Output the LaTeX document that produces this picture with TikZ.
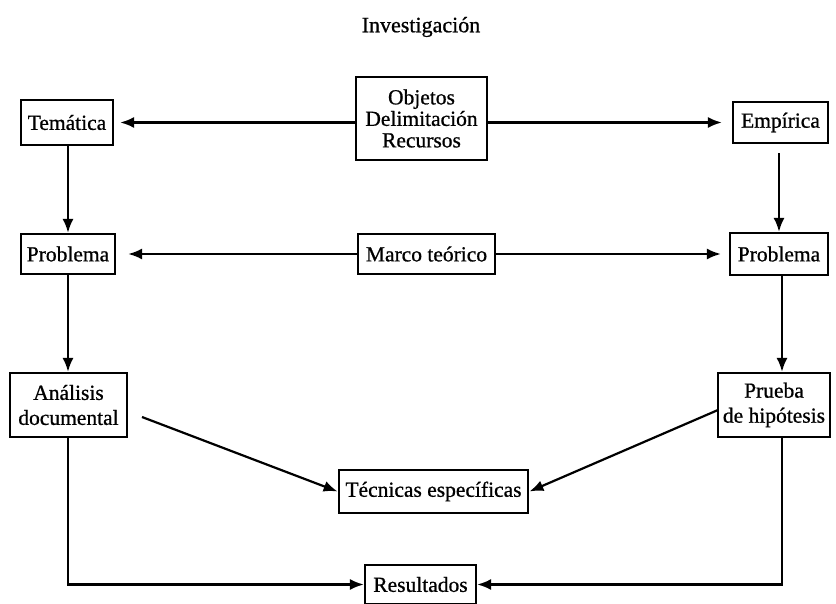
\documentclass[tikz,border=0pt]{standalone}
\usepackage{fontspec}
\setmainfont{Liberation Serif}
\newfontfamily\scanfont{Liberation Serif}[FakeBold=0.8]
\usetikzlibrary{arrows.meta}
\begin{document}
\begin{tikzpicture}[x=1pt,y=-1pt,
  box/.style={draw, line width=2.2pt, inner sep=0pt, align=center,
    font=\scanfont\fontsize{21.5}{25}\selectfont},
  heavy/.style={box, line width=2.8pt},
  conn/.style={line width=2.2pt, -{Latex[length=14pt,width=11pt]}}]
\useasboundingbox (0,0) rectangle (836,604);
\node[font=\scanfont\fontsize{22}{24}\selectfont] (title) at (421,27) {Investigación};
\node[heavy, minimum width=131pt, minimum height=83pt,
  font=\scanfont\fontsize{21.5}{21.5}\selectfont] (obj) at (421.5,118.5)
  {Objetos\\Delimitación\\Recursos};
\node[box, minimum width=92pt, minimum height=45pt] (tem) at (67,122.5) {Temática};
\node[box, minimum width=95pt, minimum height=41pt] (emp) at (780.5,122.5) {Empírica};
\node[box, minimum width=94pt, minimum height=40pt] (probl) at (68,254) {Problema};
\node[box, minimum width=137pt, minimum height=40pt] (marco) at (426.5,254) {Marco teórico};
\node[box, minimum width=98pt, minimum height=42pt] (probr) at (779,254) {Problema};
\node[box, minimum width=117pt, minimum height=64pt] (anal) at (68.5,405) {Análisis\\documental};
\node[box, minimum width=112pt, minimum height=64pt] (prue) at (774,405) {Prueba\\de hipótesis};
\node[heavy, minimum width=189pt, minimum height=43pt] (tec) at (433.5,491.5) {Técnicas específicas};
\node[box, minimum width=111pt, minimum height=39pt] (res) at (420.5,584.5) {Resultados};
% top row
\draw[conn, shorten >=6pt] (obj.west |- tem.east) -- (tem.east);
\draw[conn, shorten >=10pt] (obj.east |- emp.west) -- (emp.west);
% middle row
\draw[conn, shorten >=12pt] (marco.west) -- (probl.east);
\draw[conn, shorten >=8pt] (marco.east) -- (probr.west);
% verticals
\draw[conn] (tem.south -| probl.north) -- (probl.north);
\draw[conn, shorten <=9pt] (emp.south -| probr.north) -- (probr.north);
\draw[conn] (probl.south) -- (anal.north -| probl.south);
\draw[conn] (probr.south -| 782,0) -- (prue.north -| 782,0);
% diagonals
\coordinate (a1) at (142,417);
\coordinate (p1) at (718,410);
\draw[conn] (a1) -- (tec.west);
\draw[conn] (p1) -- (tec.east);
% bottom
\draw[conn] (anal.south -| probl.south) |- (res.west);
\draw[conn] (prue.south -| 782,0) |- (res.east);
\end{tikzpicture}
\end{document}
